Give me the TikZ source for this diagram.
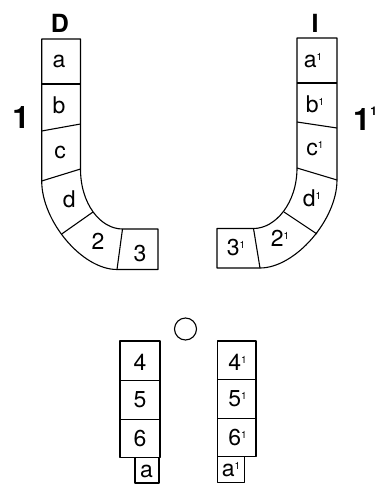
\documentclass[tikz,border=0pt]{standalone}
\usepackage{fontspec}
\setmainfont{TeX Gyre Heros}
\newcommand{\sone}{\smash{\raisebox{7pt}{\fontsize{10}{10}\selectfont 1}}}
\newcommand{\bsone}{\smash{\raisebox{15pt}{\fontsize{12}{12}\selectfont\bfseries 1}}}
\begin{document}
\begin{tikzpicture}[x=1pt,y=-1pt,
  outline/.style={draw=black, line width=1.1pt, line join=round},
  lbl/.style={font=\fontsize{23}{23}\selectfont, inner sep=0pt},
  head/.style={font=\fontsize{25}{25}\selectfont\bfseries, inner sep=0pt},
  num/.style={font=\fontsize{31}{31}\selectfont\bfseries, inner sep=0pt}]
\useasboundingbox (0,0) rectangle (379,484);

% ---------- left J ----------
\draw[outline] (41.7,181) -- (41.7,39) -- (80.5,39) -- (80.5,169)
  .. controls (80.5,204) and (100.5,229) .. (122.5,229) -- (158,229) -- (158,269.5) -- (117,269.5)
  .. controls (82,269.5) and (41.7,221) .. (41.7,181);
\draw[outline] (41.7,84) -- (80.5,84);
\draw[outline] (41.7,131) -- (80.5,124);
\draw[outline] (41.7,181) -- (80.5,169);
\draw[outline] (61.7,234) -- (93,212);
\draw[outline] (122.5,229) -- (117,269.5);

% ---------- right J ----------
\draw[outline] (337,180) -- (337,38) -- (297,38) -- (297,168)
  .. controls (297,203) and (275.5,228.5) .. (253.5,228.5) -- (217,228.5) -- (217,268) -- (260,268)
  .. controls (295,268) and (337,220) .. (337,180);
\draw[outline] (297,83) -- (337,83);
\draw[outline] (297,122) -- (337,128);
\draw[outline] (297,168) -- (337,180);
\draw[outline] (284,212) -- (317,234);
\draw[outline] (253.5,228.5) -- (260,268);

% ---------- circle ----------
\draw[outline] (185.5,329) circle (11pt);

% ---------- bottom columns ----------
\draw[outline] (120,341) rectangle (160,457.7);
\draw[outline] (120,380.7) -- (160,380.7);
\draw[outline] (120,419.3) -- (160,419.3);
\draw[outline] (135,457.7) rectangle (159,483);

\draw[outline] (217.3,341) rectangle (256,456.7);
\draw[outline] (217.3,379.3) -- (256,379.3);
\draw[outline] (217.3,418.3) -- (256,418.3);
\draw[outline] (217.3,456.7) rectangle (244.3,482.5);

% ---------- labels ----------
\node[head] (hD) at (60,23.5) {D};
\node[head] (hI) at (315,23.5) {I};
\node[num] (n1) at (21,118) {1};
\node[num] (n1p) at (365,120) {1\bsone};

\node[lbl] (la) at (59,61.7) {a};
\node[lbl] (lb) at (59,105) {b};
\node[lbl] (lc) at (60,152.5) {c};
\node[lbl] (ld) at (69.3,199) {d};
\node[lbl] (l2) at (98,241.7) {2};
\node[lbl] (l3) at (140,253.3) {3};

\node[lbl] (ra) at (313,61) {a\sone};
\node[lbl] (rb) at (315,104) {b\sone};
\node[lbl] (rc) at (315,149) {c\sone};
\node[lbl] (rd) at (312,198) {d\sone};
\node[lbl] (r2) at (280,238) {2\sone};
\node[lbl] (r3) at (236,248) {3\sone};

\node[lbl] (b4) at (140,362.5) {4};
\node[lbl] (b5) at (140,400) {5};
\node[lbl] (b6) at (140,438.5) {6};
\node[lbl] (ba) at (146.5,471.5) {a};

\node[lbl] (c4) at (237.5,362) {4\sone};
\node[lbl] (c5) at (237.5,399) {5\sone};
\node[lbl] (c6) at (237.5,437.5) {6\sone};
\node[lbl] (ca) at (231,470) {a\sone};
\end{tikzpicture}
\end{document}
